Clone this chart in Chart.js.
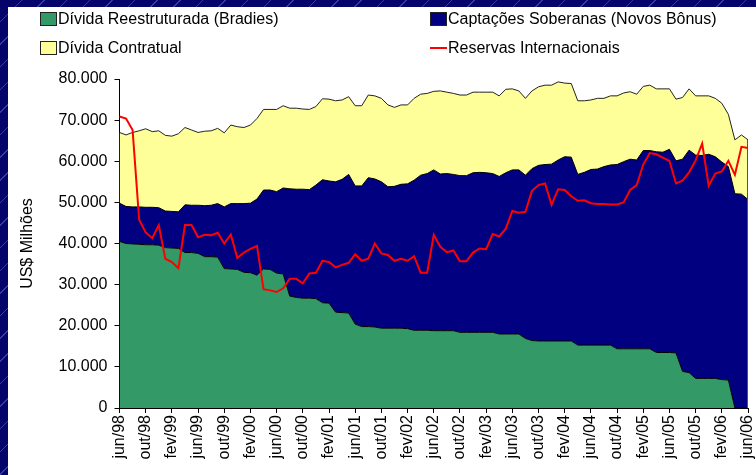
<!DOCTYPE html>
<html lang="pt-BR">
<head>
<meta charset="utf-8">
<title>Dívida externa e reservas internacionais</title>
<script src="https://cdn.jsdelivr.net/npm/chart.js@4.4.1/dist/chart.umd.min.js"></script>
<style>
  html, body { margin: 0; padding: 0; }
  body {
    width: 756px; height: 475px; overflow: hidden; position: relative;
    background-color: #04046a;
    background-image: repeating-linear-gradient(135deg, rgba(0,0,0,0) 0 15px, rgba(90,110,210,0.55) 15px 16px);
    font-family: Arial, "Liberation Sans", sans-serif;
  }
  #panel { position: absolute; left: 8px; top: 7px; right: 0; bottom: 0; background: #fff; }
  #chart { position: absolute; left: 0; top: 0; }
  .item { position: absolute; height: 20px; line-height: 20px; font-size: 16px; color: #000; white-space: nowrap; }
  .swatch { position: absolute; left: 0; top: 3px; width: 15px; height: 12px; border: 1px solid #222; }
  .dash { position: absolute; left: 0; top: 9px; width: 17px; height: 2px; }
  .item span { position: absolute; left: 18px; top: 0; }
</style>
</head>
<body>
<div id="panel"></div>
<canvas id="chart" width="756" height="475"></canvas>
<div id="legend"></div>
<script>
// Dívida externa por tipo x reservas internacionais (US$ milhões), mensal jun/98 - jun/06
const months = [
  'jun/98','jul/98','ago/98','set/98','out/98','nov/98','dez/98',
  'jan/99','fev/99','mar/99','abr/99','mai/99','jun/99','jul/99','ago/99','set/99','out/99','nov/99','dez/99',
  'jan/00','fev/00','mar/00','abr/00','mai/00','jun/00','jul/00','ago/00','set/00','out/00','nov/00','dez/00',
  'jan/01','fev/01','mar/01','abr/01','mai/01','jun/01','jul/01','ago/01','set/01','out/01','nov/01','dez/01',
  'jan/02','fev/02','mar/02','abr/02','mai/02','jun/02','jul/02','ago/02','set/02','out/02','nov/02','dez/02',
  'jan/03','fev/03','mar/03','abr/03','mai/03','jun/03','jul/03','ago/03','set/03','out/03','nov/03','dez/03',
  'jan/04','fev/04','mar/04','abr/04','mai/04','jun/04','jul/04','ago/04','set/04','out/04','nov/04','dez/04',
  'jan/05','fev/05','mar/05','abr/05','mai/05','jun/05','jul/05','ago/05','set/05','out/05','nov/05','dez/05',
  'jan/06','fev/06','mar/06','abr/06','mai/06','jun/06'
];

const seriesNames = [
  'Dívida Reestruturada (Bradies)',
  'Captações Soberanas (Novos Bônus)',
  'Dívida Contratual',
  'Reservas Internacionais'
];

const bradies = [
  40500, 40000, 39900, 39800, 39700, 39700, 39600, 39000, 38900, 38800,
  37800, 37800, 37600, 36800, 36800, 36700, 33900, 33800, 33700, 33000,
  32900, 32300, 33800, 33700, 32800, 32600, 27200, 26900, 26700, 26700,
  26600, 25600, 25500, 23300, 23200, 23100, 20400, 19800, 19800, 19700,
  19400, 19400, 19400, 19400, 19300, 18900, 18900, 18900, 18800, 18800,
  18800, 18800, 18400, 18400, 18400, 18400, 18400, 18400, 18000, 18000,
  18000, 18000, 16900, 16400, 16300, 16300, 16300, 16300, 16300, 16300,
  15300, 15300, 15300, 15300, 15300, 15300, 14400, 14400, 14400, 14400,
  14400, 14400, 13500, 13500, 13500, 13400, 8900, 8600, 7200, 7200,
  7200, 7200, 6900, 6800, 0, 0, 0
];

const captacoes = [
  9300, 9000, 9000, 9100, 9100, 9100, 9100, 8900, 8900, 8900,
  11600, 11500, 11700, 12400, 12500, 13000, 15000, 15900, 16000, 16700,
  16900, 18500, 19200, 19300, 19800, 20900, 26100, 26300, 26500, 26400,
  27600, 29900, 29700, 31700, 32400, 33700, 33600, 34200, 36200, 36000,
  35600, 34400, 34500, 35000, 35200, 36500, 37700, 38100, 39100, 38100,
  38200, 38000, 38100, 38100, 38800, 38900, 38800, 38600, 38300, 39200,
  39900, 39900, 39700, 41800, 42700, 42900, 43000, 44000, 44800, 44700,
  41500, 42000, 42700, 42800, 43400, 43800, 44800, 45500, 46100, 45900,
  48200, 48200, 48800, 48700, 49400, 46700, 51600, 54100, 54300, 54200,
  54500, 53900, 52900, 51900, 52100, 52000, 50700
];

const contratual = [
  17200, 17400, 18100, 18500, 19100, 18400, 18700, 18400, 18300, 19000,
  18800, 18300, 17700, 18100, 18100, 18300, 18000, 19100, 18700, 18500,
  19000, 19600, 19600, 19600, 20000, 20000, 19600, 19700, 19500, 19500,
  19100, 19700, 19900, 19700, 19300, 18900, 19500, 19500, 20100, 20200,
  20300, 19900, 19200, 19300, 19200, 19900, 19700, 19500, 19100, 20200,
  19800, 19700, 19600, 19600, 19600, 19500, 19600, 19800, 19600, 20300,
  19700, 19200, 18700, 18900, 19100, 19300, 19200, 19000, 17900, 17900,
  17900, 17400, 16900, 17200, 16600, 16800, 16700, 16700, 16400, 16000,
  15600, 15900, 15300, 15400, 14700, 15000, 15000, 14900, 14400, 14500,
  14200, 14200, 14300, 12700, 13100, 14400, 14500
];

const reservas = [
  70900, 70400, 67600, 45800, 42700, 41300, 44500, 36300, 35500, 34000,
  44500, 44500, 41500, 42100, 42000, 42600, 40000, 42200, 36500, 37800,
  38700, 39400, 28900, 28600, 28200, 29100, 31400, 31400, 30300, 32700,
  32900, 35800, 35500, 34200, 34800, 35300, 37400, 35800, 36300, 40000,
  37600, 37200, 35800, 36300, 35800, 36900, 32900, 32900, 42100, 39200,
  37900, 38300, 35700, 35700, 37800, 38800, 38600, 42300, 41700, 43600,
  47900, 47500, 47700, 52800, 54200, 54600, 49400, 53200, 53000, 51500,
  50400, 50500, 49800, 49600, 49600, 49500, 49500, 50000, 53000, 54200,
  59200, 62000, 61700, 60900, 60100, 54600, 55300, 57300, 60200, 64300,
  54000, 57000, 57500, 60100, 56700, 63500, 63200
];

const yTicks = [0, 10000, 20000, 30000, 40000, 50000, 60000, 70000, 80000];

const colors = ['#339966', '#000080', '#FFFF99', '#FF0000'];
const FONT = 'Arial, "Liberation Sans", sans-serif';

Chart.defaults.font.family = FONT;
Chart.defaults.font.size = 16;
Chart.defaults.color = '#000';

function fmt(v) {
  return String(v).replace(/\B(?=(\d{3})+(?!\d))/g, '.');
}

// legend as html, 2 columns
const legendPos = [[40, 9], [430, 9], [40, 38], [430, 38]];
const legendEl = document.getElementById('legend');
seriesNames.forEach((name, i) => {
  const item = document.createElement('div');
  item.className = 'item';
  item.style.left = legendPos[i][0] + 'px';
  item.style.top = legendPos[i][1] + 'px';
  const mark = document.createElement('div');
  mark.className = i === 3 ? 'dash' : 'swatch';
  mark.style.background = colors[i];
  const txt = document.createElement('span');
  txt.textContent = name;
  item.appendChild(mark);
  item.appendChild(txt);
  legendEl.appendChild(item);
});

// closing edge of the stacked areas at the last month (as excel draws it)
const areaEdge = {
  id: 'areaEdge',
  afterDatasetDraw(chart, args) {
    if (args.index !== 0) return;
    const meta = chart.getDatasetMeta(2);
    const last = meta.data[meta.data.length - 1];
    if (!last) return;
    const c = chart.ctx;
    const x = Math.round(last.x) - 0.5;
    c.save();
    c.strokeStyle = '#555';
    c.lineWidth = 1;
    c.beginPath();
    c.moveTo(x, last.y);
    c.lineTo(x, chart.scales.y.getPixelForValue(0));
    c.stroke();
    c.restore();
  }
};

const ctx = document.getElementById('chart').getContext('2d');
const chart = new Chart(ctx, {
  type: 'line',
  data: {
    labels: months,
    datasets: [
      { label: seriesNames[0], data: bradies, backgroundColor: colors[0], borderColor: '#000', borderWidth: 1, fill: 'origin', stack: 'divida', order: 1 },
      { label: seriesNames[1], data: captacoes, backgroundColor: colors[1], borderColor: '#000', borderWidth: 1, fill: '-1', stack: 'divida', order: 1 },
      { label: seriesNames[2], data: contratual, backgroundColor: colors[2], borderColor: '#222', borderWidth: 1, fill: '-1', stack: 'divida', order: 1 },
      { label: seriesNames[3], data: reservas, borderColor: colors[3], borderWidth: 2, fill: false, stack: 'reservas', order: 0 }
    ]
  },
  options: {
    responsive: false,
    animation: false,
    devicePixelRatio: 1,
    layout: { padding: { left: 14, right: 8, top: 79, bottom: 0 } },
    elements: {
      point: { radius: 0 },
      line: { tension: 0 }
    },
    plugins: {
      legend: { display: false },
      tooltip: { enabled: false }
    },
    scales: {
      x: {
        offset: false,
        grid: { drawOnChartArea: false, offset: false, color: '#000', tickLength: 5 },
        border: { color: '#000', width: 1 },
        ticks: {
          autoSkip: false,
          minRotation: 90,
          maxRotation: 90,
          padding: 2,
          callback: (v, i) => (i % 4 === 0 ? months[i] : null)
        },
        afterFit: (s) => { s.height = 67; s.paddingLeft = 0; s.paddingRight = 0; }
      },
      y: {
        stacked: true,
        min: 0,
        max: 80000,
        afterBuildTicks: (s) => { s.ticks = yTicks.map((v) => ({ value: v })); },
        grid: { drawOnChartArea: false, color: '#000', tickLength: 5 },
        border: { color: '#000', width: 1 },
        ticks: { padding: 7, callback: (v) => fmt(v) },
        title: { display: true, text: 'US$ Milhões', padding: { top: 4, bottom: 0 } },
        afterFit: (s) => { s.width = 105.5; }
      }
    }
  },
  plugins: [areaEdge]
});
</script>
</body>
</html>
